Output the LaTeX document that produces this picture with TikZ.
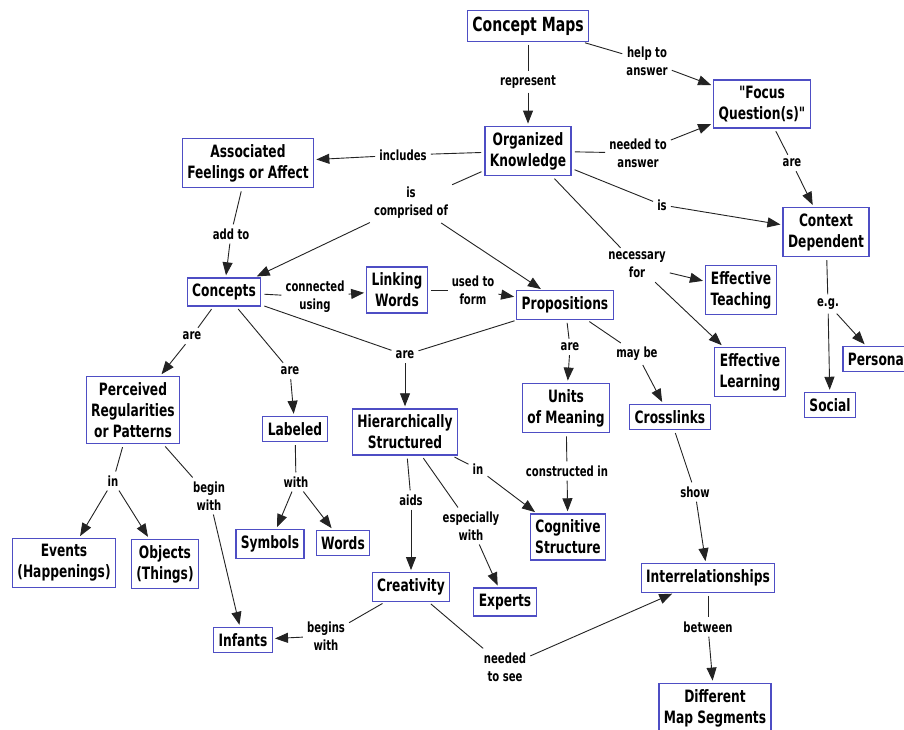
\documentclass[tikz,border=0pt]{standalone}
\usepackage{fontspec}
\newfontfamily\cmapfont[FakeStretch=0.72]{DejaVu Sans}
\usetikzlibrary{arrows.meta}
\definecolor{boxblue}{RGB}{78,78,196}
\definecolor{linkgray}{RGB}{35,35,35}

\begin{document}
\begin{tikzpicture}[x=1pt,y=-1pt]
		\tikzset{concept/.style={draw=boxblue, line width=1.3pt, fill=white, align=center, inner xsep=5pt, inner ysep=6pt, font=\cmapfont\bfseries\fontsize{17}{21}\selectfont}};
		\tikzset{linkword/.style={align=center, inner sep=4pt, font=\cmapfont\bfseries\fontsize{14}{18}\selectfont}};
		\tikzset{tolink/.style={linkgray, line width=0.9pt, shorten <=3pt}};
		\tikzset{toconcept/.style={linkgray, line width=0.9pt, -{Triangle[length=13pt,width=10pt]}, shorten >=2pt}};
		\clip (0,0) rectangle (904,729);
		\fill[white] (0,0) rectangle (904,729);
		
		\node[concept, font=\cmapfont\bfseries\fontsize{19.5}{23}\selectfont] (cmaps) at (528,26) {Concept Maps};
		\node[concept] (focus) at (762,104) {"Focus\\Question(s)"};
		\node[concept] (orgk) at (528,151) {Organized\\Knowledge};
		\node[concept] (assoc) at (248,163) {Associated\\Feelings or Affect};
		\node[concept] (context) at (826,232) {Context\\Dependent};
		\node[concept] (concepts) at (224,292) {Concepts};
		\node[concept] (linking) at (397,290) {Linking\\Words};
		\node[concept] (props) at (565,305) {Propositions};
		\node[concept] (teach) at (741,290) {Effective\\Teaching};
		\node[concept] (learn) at (750,372) {Effective\\Learning};
		\node[concept] (personal) at (878,359) {Personal};
		\node[concept] (social) at (830,405) {Social};
		\node[concept] (percv) at (133,410) {Perceived\\Regularities\\or Patterns};
		\node[concept] (labeled) at (295,429) {Labeled};
		\node[concept] (hier) at (405,432) {Hierarchically\\Structured};
		\node[concept] (units) at (566,408) {Units\\of Meaning};
		\node[concept] (cross) at (670,417) {Crosslinks};
		\node[concept] (events) at (64,563) {Events\\(Happenings)};
		\node[concept] (objects) at (165,564) {Objects\\(Things)};
		\node[concept] (symbols) at (270,544) {Symbols};
		\node[concept] (words) at (343,543) {Words};
		\node[concept] (cogn) at (568,537) {Cognitive\\Structure};
		\node[concept] (creat) at (411,587) {Creativity};
		\node[concept] (experts) at (505,602) {Experts};
		\node[concept] (inter) at (708,578) {Interrelationships};
		\node[concept] (infants) at (243,640) {Infants};
		\node[concept] (segments) at (715,708) {Different\\Map Segments};
		
		\node[linkword] (l-represent) at (528,82) {represent};
		\node[linkword] (l-help) at (647,61) {help to\\answer};
		\node[linkword] (l-needed) at (638,153) {needed to\\answer};
		\node[linkword] (l-includes) at (403,155) {includes};
		\node[linkword] (l-is) at (662,205) {is};
		\node[linkword] (l-are1) at (792,163) {are};
		\node[linkword] (l-comprised) at (411,203) {is\\comprised of};
		\node[linkword] (l-addto) at (231,234) {add to};
		\node[linkword] (l-necessary) at (637,265) {necessary\\for};
		\node[linkword] (l-connected) at (315,297) {connected\\using};
		\node[linkword] (l-usedto) at (473,290) {used to\\form};
		\node[linkword] (l-eg) at (828,304) {e.g.};
		\node[linkword] (l-are2) at (192,336) {are};
		\node[linkword] (l-are3) at (290,371) {are};
		\node[linkword] (l-are4) at (405,355) {are};
		\node[linkword] (l-are5) at (570,347) {are};
		\node[linkword] (l-maybe) at (637,354) {may be};
		\node[linkword] (l-in1) at (113,481) {in};
		\node[linkword] (l-begin) at (209,496) {begin\\with};
		\node[linkword] (l-with) at (296,482) {with};
		\node[linkword] (l-in2) at (478,469) {in};
		\node[linkword] (l-aids) at (411,500) {aids};
		\node[linkword] (l-esp) at (471,526) {especially\\with};
		\node[linkword] (l-constructed) at (567,471) {constructed in};
		\node[linkword] (l-show) at (695,492) {show};
		\node[linkword] (l-begins) at (326,636) {begins\\with};
		\node[linkword] (l-needsee) at (505,667) {needed\\to see};
		\node[linkword] (l-between) at (708,627) {between};
		
		\draw[tolink] (cmaps) -- (l-represent);
		\draw[toconcept] (l-represent) -- (orgk);
		\draw[tolink] (cmaps) -- (l-help);
		\draw[toconcept] (l-help) -- (focus);
		\draw[tolink] (orgk) -- (l-needed);
		\draw[toconcept] (l-needed) -- (focus);
		\draw[tolink] (orgk) -- (l-includes);
		\draw[toconcept] (l-includes) -- (assoc);
		\draw[tolink] (orgk) -- (l-is);
		\draw[toconcept] (l-is) -- (context);
		\draw[tolink] (focus) -- (l-are1);
		\draw[toconcept] (l-are1) -- (context);
		\draw[tolink] (orgk) -- (l-comprised);
		\draw[toconcept] (l-comprised) -- (concepts);
		\draw[toconcept] (l-comprised) -- (props);
		\draw[tolink] (orgk) -- (l-necessary);
		\draw[toconcept] (l-necessary) -- (teach);
		\draw[toconcept] (l-necessary) -- (learn);
		\draw[tolink] (assoc) -- (l-addto);
		\draw[toconcept] (l-addto) -- (concepts);
		\draw[tolink] (concepts) -- (l-connected);
		\draw[toconcept] (l-connected) -- (linking);
		\draw[tolink] (linking) -- (l-usedto);
		\draw[toconcept] (l-usedto) -- (props);
		\draw[tolink] (context) -- (l-eg);
		\draw[toconcept] (l-eg) -- (personal);
		\draw[toconcept] (l-eg) -- (social);
		\draw[tolink] (concepts) -- (l-are2);
		\draw[toconcept] (l-are2) -- (percv);
		\draw[tolink] (concepts) -- (l-are3);
		\draw[toconcept] (l-are3) -- (labeled);
		\draw[tolink] (concepts) -- (l-are4);
		\draw[tolink] (props) -- (l-are4);
		\draw[toconcept] (l-are4) -- (hier);
		\draw[tolink] (props) -- (l-are5);
		\draw[toconcept] (l-are5) -- (units);
		\draw[tolink] (props) -- (l-maybe);
		\draw[toconcept] (l-maybe) -- (cross);
		\draw[tolink] (percv) -- (l-in1);
		\draw[toconcept] (l-in1) -- (events);
		\draw[toconcept] (l-in1) -- (objects);
		\draw[tolink] (percv) -- (l-begin);
		\draw[toconcept] (l-begin) -- (infants);
		\draw[tolink] (labeled) -- (l-with);
		\draw[toconcept] (l-with) -- (symbols);
		\draw[toconcept] (l-with) -- (words);
		\draw[tolink] (hier) -- (l-in2);
		\draw[toconcept] (l-in2) -- (cogn);
		\draw[tolink] (hier) -- (l-aids);
		\draw[toconcept] (l-aids) -- (creat);
		\draw[tolink] (hier) -- (l-esp);
		\draw[toconcept] (l-esp) -- (experts);
		\draw[tolink] (units) -- (l-constructed);
		\draw[toconcept] (l-constructed) -- (cogn);
		\draw[tolink] (cross) -- (l-show);
		\draw[toconcept] (l-show) -- (inter);
		\draw[tolink] (creat) -- (l-begins);
		\draw[toconcept] (l-begins) -- (infants);
		\draw[tolink] (creat) -- (l-needsee);
		\draw[toconcept] (l-needsee) -- (inter);
		\draw[tolink] (inter) -- (l-between);
		\draw[toconcept] (l-between) -- (segments);
\end{tikzpicture}
\end{document}
